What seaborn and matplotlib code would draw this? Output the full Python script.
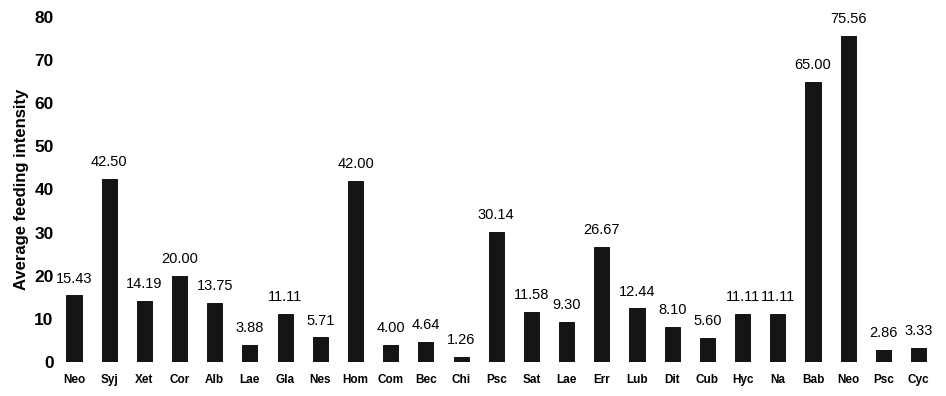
import matplotlib
matplotlib.use("Agg")
import matplotlib.pyplot as plt
import seaborn as sns
import pandas as pd

species = ["Neo", "Syj", "Xet", "Cor", "Alb", "Lae", "Gla", "Nes", "Hom", "Com",
           "Bec", "Chi", "Psc", "Sat", "Lae", "Err", "Lub", "Dit", "Cub", "Hyc",
           "Na", "Bab", "Neo", "Psc", "Cyc"]
intensity = [15.43, 42.50, 14.19, 20.00, 13.75, 3.88, 11.11, 5.71, 42.00, 4.00,
             4.64, 1.26, 30.14, 11.58, 9.30, 26.67, 12.44, 8.10, 5.60, 11.11,
             11.11, 65.00, 75.56, 2.86, 3.33]
yticks = [0, 10, 20, 30, 40, 50, 60, 70, 80]

sns.set_theme(style="white")
plt.rcParams['font.family'] = ['Liberation Sans', 'DejaVu Sans']
plt.rcParams['text.color'] = 'black'
plt.rcParams['axes.labelcolor'] = 'black'
plt.rcParams['xtick.color'] = 'black'
plt.rcParams['ytick.color'] = 'black'

df = pd.DataFrame({"pos": list(range(len(species))), "value": intensity})

fig = plt.figure(figsize=(9.46, 3.96), dpi=100)
ax = fig.add_axes([0.0596, 0.086, 0.93, 0.871])
sns.barplot(data=df, x="pos", y="value", color="#151515", width=0.43,
            saturation=1, ax=ax, edgecolor="#000000", linewidth=0.6)

for i, v in enumerate(intensity):
    ax.annotate(f"{v:.2f}", (i, v), xytext=(0, 7), textcoords="offset points",
                ha="center", va="bottom", fontsize=10.5, color="black")

ax.set_xlim(-0.5, len(species) - 0.5)
ax.set_ylim(0, 80)
ax.set_yticks(yticks)
ax.set_yticklabels([str(t) for t in yticks], fontsize=12.5, fontweight="bold")
ax.set_xticks(range(len(species)))
ax.set_xticklabels(species, fontsize=8.5, fontweight="bold")
ax.tick_params(axis="y", length=0, pad=2)
ax.tick_params(axis="x", length=0, pad=9)
ax.set_xlabel("")
ax.set_ylabel("Average feeding intensity", fontsize=12, fontweight="bold", labelpad=4)
for s in ax.spines.values():
    s.set_visible(False)

fig.savefig("out.png", dpi=100)
